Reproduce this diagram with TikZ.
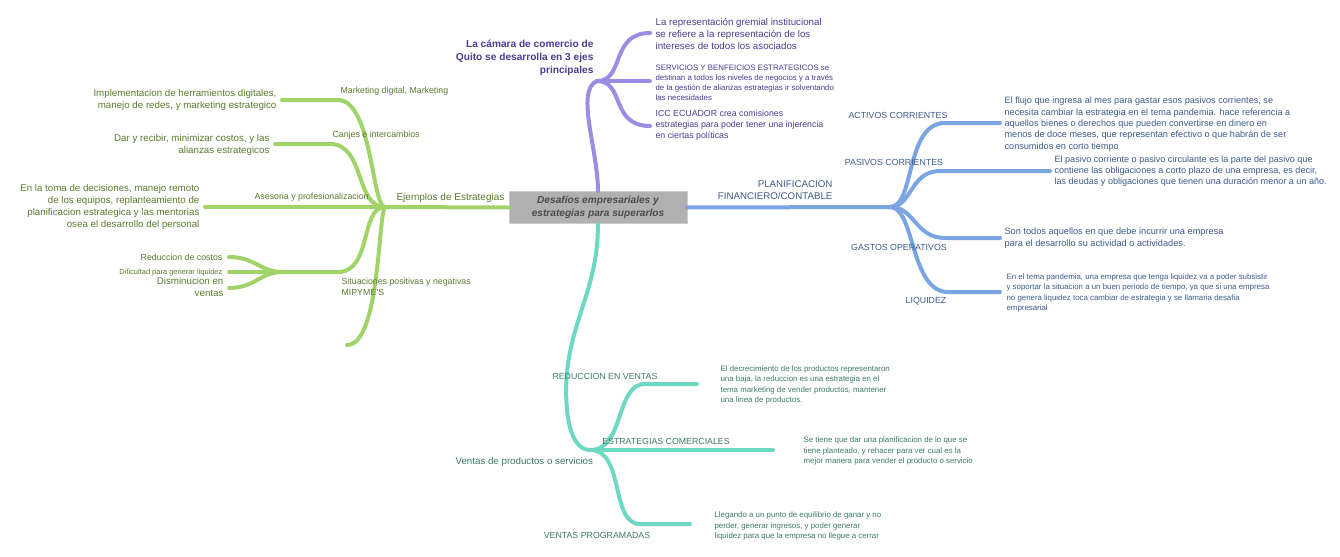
\documentclass[tikz,border=0pt]{standalone}
\usepackage{fontspec}
\setmainfont{Liberation Sans}
\begin{document}
\begin{tikzpicture}[x=0.75pt,y=-0.75pt,
 br/.style={line width=3pt,line cap=round},
 g/.style={br,draw=grn}, p/.style={br,draw=prp}, b/.style={br,draw=blu}, t/.style={br,draw=tea},
 lab/.style={inner sep=1pt,font=\fontsize{6.6}{8}\selectfont},
 txt/.style={inner sep=1pt,font=\fontsize{7.3}{9.2}\selectfont,align=left},
 stxt/.style={inner sep=1pt,font=\fontsize{5.9}{7.6}\selectfont,align=left},
 pt/.style={coordinate}]
\definecolor{grn}{HTML}{A0D468}\definecolor{grnT}{HTML}{5B7A2E}
\definecolor{prp}{HTML}{9A8EE2}\definecolor{prpT}{HTML}{4A3C92}
\definecolor{blu}{HTML}{7BA4E2}\definecolor{bluT}{HTML}{3D5A8C}
\definecolor{tea}{HTML}{6ED9C2}\definecolor{teaT}{HTML}{3E7A6A}
\useasboundingbox (0,0) rectangle (1340,557);
% center
\node[fill=gray!62,draw=gray!40,minimum width=178*0.75pt,minimum height=31*0.75pt,align=center,font=\fontsize{7.6}{10.2}\selectfont\bfseries\itshape,text=black!70] (c) at (598,207.5) {Desafíos empresariales y\\ estrategias para superarlos};
% ---- green
\coordinate (gh) at (385,207);
\draw[g] (c.west) -- (gh);
\node[lab,font=\fontsize{7.5}{9}\selectfont,text=grnT,anchor=south east] (gl) at (506,204) {Ejemplos de Estrategias};
\coordinate (g1) at (338,100); \coordinate (g1e) at (282,100);
\coordinate (g2) at (330,144); \coordinate (g2e) at (275,144);
\coordinate (g3) at (252,207); \coordinate (g3e) at (205,207);
\coordinate (g4) at (338,272); \coordinate (g4e) at (283,272);
\coordinate (g5) at (347,345);
\draw[g] (gh) .. controls (372,207) and (372,100) .. (g1) -- (g1e);
\draw[g] (gh) .. controls (355,207) and (365,144) .. (g2) -- (g2e);
\draw[g] (gh) -- (g3) -- (g3e);
\draw[g] (gh) .. controls (360,207) and (372,272) .. (g4) -- (g4e);
\draw[g] (gh) .. controls (378,215) and (380,345) .. (g5);
\coordinate (r1) at (229,257); \coordinate (r2) at (229,272); \coordinate (r3) at (229,288);
\draw[g] (g4e) .. controls (260,272) and (255,257) .. (r1);
\draw[g] (g4e) -- (r2);
\draw[g] (g4e) .. controls (260,272) and (255,288) .. (r3);
\node[lab,text=grnT,anchor=south west] (gl1) at (339,97) {Marketing digital, Marketing};
\node[lab,text=grnT,anchor=south west] (gl2) at (331,141) {Canjes e intercambios};
\node[lab,text=grnT,anchor=south west] (gl3) at (253,203) {Asesoria y profesionalizacion};
\node[lab,text=grnT,anchor=north west,align=left] (gl4) at (340,277) {Situaciones positivas y negativas\\MIPYME'S};
\node[txt,text=grnT,align=right,anchor=east] (gt1) at (278,100) {Implementacion de herramientos digitales,\\manejo de redes, y marketing estrategico};
\node[txt,text=grnT,align=right,anchor=east] (gt2) at (271,145) {Dar y recibir, minimizar costos, y las\\alianzas estrategicos};
\node[txt,text=grnT,align=right,anchor=east] (gt3) at (201,207) {En la toma de decisiones, manejo remoto\\de los equipos, replanteamiento de\\planificacion estrategica y las mentorias\\osea el desarrollo del personal};
\node[lab,text=grnT,anchor=east] (gr1) at (224,257) {Reduccion de costos};
\node[lab,font=\fontsize{5.6}{7}\selectfont,text=grnT,anchor=east] (gr2) at (224,273) {Dificultad para generar liquidez};
\node[txt,text=grnT,align=right,anchor=north east] (gr3) at (225,276) {Disminucion en\\ventas};
% ---- purple
\coordinate (ph) at (597,81);
\draw[p] (c.north) .. controls (598,150) and (575,90) .. (ph);
\coordinate (p1) at (650,33); \coordinate (p2) at (650,81); \coordinate (p3) at (650,126);
\draw[p] (ph) .. controls (625,81) and (610,33) .. (p1);
\draw[p] (ph) -- (p2);
\draw[p] (ph) .. controls (625,81) and (610,126) .. (p3);
\node[txt,font=\fontsize{7.6}{9.8}\selectfont\bfseries,text=prpT,align=right,anchor=north east] (pl) at (595,38) {La cámara de comercio de\\Quito se desarrolla en 3 ejes\\principales};
\node[txt,text=prpT,anchor=west] (pt1) at (654,34) {La representación gremial institucional\\se refiere a la representación de los\\intereses de todos los asociados};
\node[stxt,text=prpT,anchor=west] (pt2) at (654,83) {SERVICIOS Y BENFEICIOS ESTRATEGICOS se\\destinan a todos los niveles de negocios y a través\\de la gestión de alianzas estrategias ir solventando\\las necesidades};
\node[txt,font=\fontsize{6.6}{8.3}\selectfont,text=prpT,anchor=west] (pt3) at (654,125) {ICC ECUADOR crea comisiones\\estrategias para poder tener una injerencia\\en ciertas políticas};
% ---- blue
\coordinate (bh) at (890,207);
\draw[b] (c.east) -- (bh);
\node[txt,text=bluT,align=right,anchor=south east] (bl) at (834,201) {PLANIFICACION\\FINANCIERO/CONTABLE};
\coordinate (b1) at (945,123); \coordinate (b1e) at (1000,123);
\coordinate (b2) at (940,171); \coordinate (b2e) at (1050,171);
\coordinate (b3) at (945,238); \coordinate (b3e) at (1000,238);
\coordinate (b4) at (948,292); \coordinate (b4e) at (1000,292);
\draw[b] (bh) .. controls (915,207) and (905,123) .. (b1) -- (b1e);
\draw[b] (bh) .. controls (912,207) and (910,171) .. (b2) -- (b2e);
\draw[b] (bh) .. controls (915,207) and (915,238) .. (b3) -- (b3e);
\draw[b] (bh) .. controls (915,207) and (910,292) .. (b4) -- (b4e);
\node[lab,text=bluT] (bl1) at (898,115) {ACTIVOS CORRIENTES};
\node[lab,text=bluT] (bl2) at (894,162) {PASIVOS CORRIENTES};
\node[lab,text=bluT] (bl3) at (899,247) {GASTOS OPERATIVOS};
\node[lab,text=bluT] (bl4) at (926,301) {LIQUIDEZ};
\node[txt,font=\fontsize{6.85}{8.5}\selectfont,text=bluT,anchor=west] (bt1) at (1003,124) {El flujo que ingresa al mes para gastar esos pasivos corrientes, se\\necesita cambiar la estrategia en el tema pandemia. hace referencia a\\aquellos bienes o derechos que pueden convertirse en dinero en\\menos de doce meses, que representan efectivo o que habrán de ser\\consumidos en corto tiempo};
\node[txt,font=\fontsize{6.8}{8.5}\selectfont,text=bluT,anchor=west] (bt2) at (1053,171) {El pasivo corriente o pasivo circulante es la parte del pasivo que\\contiene las obligaciones a corto plazo de una empresa, es decir,\\las deudas y obligaciones que tienen una duración menor a un año.};
\node[txt,font=\fontsize{6.9}{8.5}\selectfont,text=bluT,anchor=west] (bt3) at (1003,238) {Son todos aquellos en que debe incurrir una empresa\\para el desarrollo su actividad o actividades.};
\node[stxt,text=bluT,anchor=west] (bt4) at (1005,293) {En el tema pandemia, una empresa que tenga liquidez va a poder subsistir\\y soportar la situacion a un buen periodo de tiempo, ya que si una empresa\\no genera liquidez toca cambiar de estrategia y se llamaria desafia\\empresarial};
% ---- teal
\coordinate (th) at (590,450);
\draw[t] (c.south) .. controls (598,300) and (560,330) .. (567,410) .. controls (570,440) and (580,450) .. (th);
\node[txt,text=teaT,anchor=west] (tl) at (454,462) {Ventas de productos o servicios};
\coordinate (t1) at (645,384); \coordinate (t1e) at (697,384);
\coordinate (t2) at (715,450); \coordinate (t2e) at (773,450);
\coordinate (t3) at (640,524); \coordinate (t3e) at (690,524);
\draw[t] (th) .. controls (625,450) and (615,384) .. (t1) -- (t1e);
\draw[t] (th) -- (t2) -- (t2e);
\draw[t] (th) .. controls (625,450) and (610,524) .. (t3) -- (t3e);
\node[lab,text=teaT] (tl1) at (605,376) {REDUCCION EN VENTAS};
\node[lab,text=teaT] (tl2) at (666,441) {ESTRATEGIAS COMERCIALES};
\node[lab,text=teaT] (tl3) at (597,535) {VENTAS PROGRAMADAS};
\node[stxt,text=teaT,anchor=west] (tt1) at (719,385) {El decrecimiento de los productos representaron\\una baja, la reduccion es una estrategia en el\\tema marketing de vender productos, mantener\\una linea de productos.};
\node[stxt,text=teaT,anchor=west] (tt2) at (802,451) {Se tiene que dar una planificacion de lo que se\\tiene planteado, y rehacer para ver cual es la\\mejor manera para vender el producto o servicio};
\node[stxt,text=teaT,anchor=west] (tt3) at (713,526) {Llegando a un punto de equilibrio de ganar y no\\perder, generar ingresos, y poder generar\\liquidez para que la empresa no llegue a cerrar};
\end{tikzpicture}
\end{document}
